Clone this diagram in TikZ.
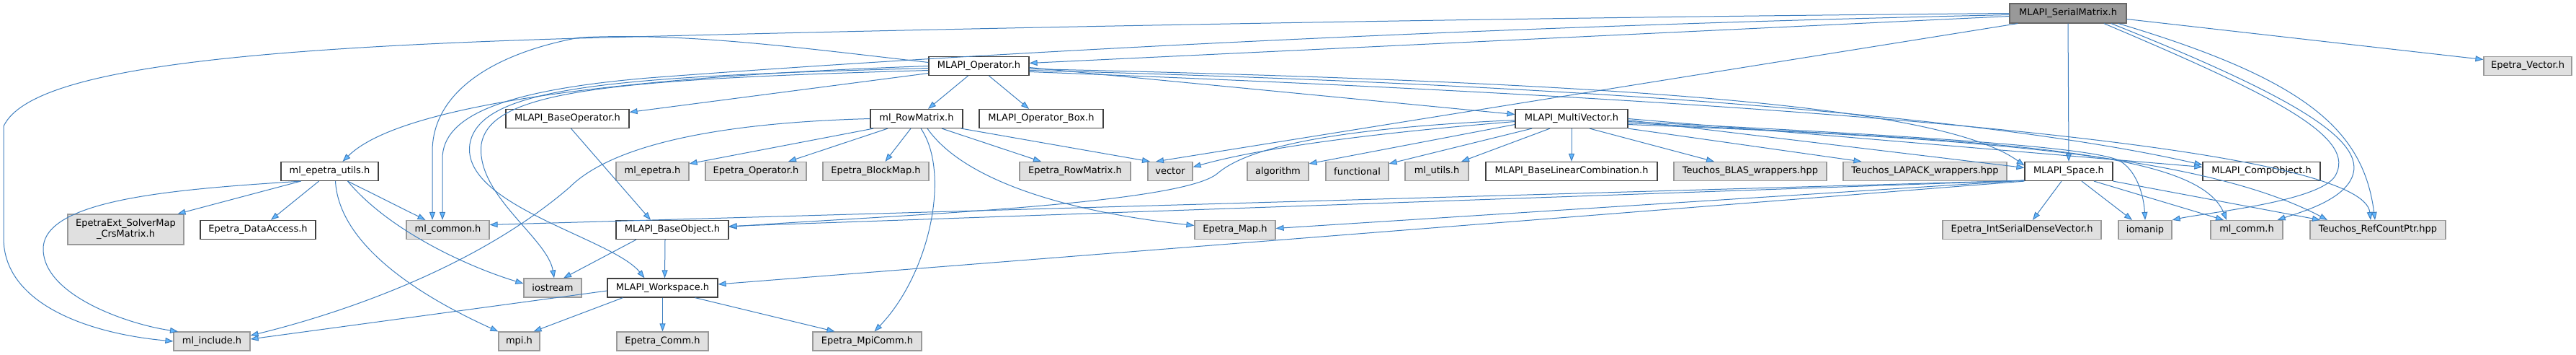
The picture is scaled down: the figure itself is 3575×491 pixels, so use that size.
\documentclass[tikz,border=0pt]{standalone}
\usepackage{fontspec}
\setmainfont{DejaVu Sans}
\usetikzlibrary{arrows.meta}
\definecolor{edgec}{HTML}{3F7FBF}
\definecolor{tipc}{HTML}{63B8FF}
\definecolor{nbord}{HTML}{404040}
\definecolor{gfill}{HTML}{E0E0E0}
\definecolor{gbord}{HTML}{999999}
\definecolor{rfill}{HTML}{999999}
\definecolor{rbord}{HTML}{666666}
\begin{document}
\begin{tikzpicture}[x=1pt,y=-1pt,
  hnode/.style={draw=nbord, fill=white, line width=1.2pt, minimum height=26pt, inner sep=0pt, font=\fontsize{13}{15}\selectfont},
  gnode/.style={hnode, draw=gbord, fill=gfill},
  root/.style={hnode, draw=rbord, fill=rfill},
  edge/.style={draw=edgec, line width=1pt, -{Triangle[length=11pt,width=8pt,fill=tipc]}}]
\fill[white] (0,0) rectangle (3575,491);
\useasboundingbox (0,0) rectangle (3575,491);
% nodes
\node[root, minimum width=162pt, minimum height=27pt] (S) at (2870,18.5) {MLAPI\_SerialMatrix.h};
\node[gnode, minimum width=122pt] (EV) at (3508,91.5) {Epetra\_Vector.h};
\node[hnode, minimum width=139pt] (OP) at (1358.5,91.5) {MLAPI\_Operator.h};
\node[hnode, minimum width=171pt] (BOP) at (787.5,164.5) {MLAPI\_BaseOperator.h};
\node[hnode, minimum width=128pt] (RM) at (1272,164.5) {ml\_RowMatrix.h};
\node[hnode, minimum width=172pt] (OB) at (1445,164.5) {MLAPI\_Operator\_Box.h};
\node[hnode, minimum width=156pt] (MV) at (2181,164.5) {MLAPI\_MultiVector.h};
\node[hnode, minimum width=135pt] (EU) at (457.5,237.5) {ml\_epetra\_utils.h};
\node[gnode, minimum width=101pt] (ME) at (905.5,237.5) {ml\_epetra.h};
\node[gnode, minimum width=140pt] (EO) at (1049,237.5) {Epetra\_Operator.h};
\node[gnode, minimum width=147pt] (EB) at (1215.5,237.5) {Epetra\_BlockMap.h};
\node[gnode, minimum width=154pt] (ERM) at (1492,237.5) {Epetra\_RowMatrix.h};
\node[gnode, minimum width=62pt] (VEC) at (1624,237.5) {vector};
\node[gnode, minimum width=85pt] (ALG) at (1773.5,237.5) {algorithm};
\node[gnode, minimum width=87pt] (FUN) at (1883.5,237.5) {functional};
\node[gnode, minimum width=88pt] (MU) at (1994,237.5) {ml\_utils.h};
\node[hnode, minimum width=238pt] (BLC) at (2181,237.5) {MLAPI\_BaseLinearCombination.h};
\node[gnode, minimum width=212pt] (BLAS) at (2429,237.5) {Teuchos\_BLAS\_wrappers.hpp};
\node[gnode, minimum width=227pt] (LAP) at (2671.5,237.5) {Teuchos\_LAPACK\_wrappers.hpp};
\node[hnode, minimum width=122pt] (SP) at (2871,237.5) {MLAPI\_Space.h};
\node[hnode, minimum width=163pt] (CO) at (3138.5,237.5) {MLAPI\_CompObject.h};
\node[gnode, minimum width=161pt, minimum height=42pt, align=center] (EX) at (174.5,318) {EpetraExt\_SolverMap\\\_CrsMatrix.h};
\node[hnode, minimum width=160pt] (DA) at (358,318.5) {Epetra\_DataAccess.h};
\node[gnode, minimum width=115pt] (MC) at (621.5,318.5) {ml\_common.h};
\node[hnode, minimum width=156pt] (BO) at (933,318.5) {MLAPI\_BaseObject.h};
\node[gnode, minimum width=112pt] (EM) at (1714,318.5) {Epetra\_Map.h};
\node[gnode, minimum width=220pt] (ISD) at (2806,318.5) {Epetra\_IntSerialDenseVector.h};
\node[gnode, minimum width=74pt] (IOM) at (2977,318.5) {iomanip};
\node[gnode, minimum width=100pt] (COMM) at (3118,318.5) {ml\_comm.h};
\node[gnode, minimum width=188pt] (RCP) at (3300,318.5) {Teuchos\_RefCountPtr.hpp};
\node[gnode, minimum width=80pt] (IOS) at (767,399) {iostream};
\node[hnode, minimum width=153pt] (WS) at (919.5,399) {MLAPI\_Workspace.h};
\node[gnode, minimum width=106pt] (INC) at (294,473) {ml\_include.h};
\node[gnode, minimum width=57pt] (MPI) at (720.5,473) {mpi.h};
\node[gnode, minimum width=127pt] (EC) at (919.5,473) {Epetra\_Comm.h};
\node[gnode, minimum width=151pt] (EMC) at (1203.5,473) {Epetra\_MpiComm.h};
% edges from SerialMatrix
\draw[edge] (S.west) .. controls (2000,25) and (1200,42) .. (804,53) .. controls (300,68) and (40,100) .. (5,175) -- (5,330) .. controls (5,420) and (120,462) .. (INC.west);
\draw[edge] ([yshift=-2pt]S.west) .. controls (1900,40) and (1200,85) .. (900,108) .. controls (700,125) and (614,160) .. (614,220) -- ([xshift=-7.5pt]MC.north);
\draw[edge] ([yshift=-4pt]S.west) -- ([yshift=4pt]OP.east);
\draw[edge] ([xshift=-70pt]S.south) -- ([xshift=-20pt]VEC.north);
\draw[edge] (S.south) -- (SP.north);
\draw[edge] ([yshift=-8pt]S.east) -- ([yshift=9pt]EV.west);
\draw[edge] ([xshift=50pt]S.south) .. controls (3150,130) and (3275,190) .. (3240,245) .. controls (3215,280) and (3060,295) .. (IOM.north east);
\draw[edge] ([xshift=60pt]S.south) .. controls (3200,140) and (3290,200) .. (3262,250) .. controls (3245,280) and (3190,295) .. ([xshift=-8pt]COMM.north east);
\draw[edge] ([xshift=70pt]S.south) .. controls (3200,110) and (3280,180) .. ([xshift=-4pt]RCP.north);
% edges from Operator
\draw[edge] ([yshift=5pt]OP.west) .. controls (1100,65) and (950,45) .. (804,52) .. controls (680,75) and (600,130) .. (600,210) -- ([xshift=-21.5pt]MC.north);
\draw[edge] (OP.west) .. controls (900,105) and (560,140) .. ([xshift=18pt]EU.north);
\draw[edge] ([yshift=-3pt]OP.west) .. controls (850,106) and (665,120) .. (652,200) .. controls (640,285) and (850,330) .. ([xshift=-25pt]WS.north);
\draw[edge] ([yshift=-6pt]OP.west) .. controls (850,110) and (680,125) .. (668,200) .. controls (660,270) and (760,330) .. ([xshift=2pt]IOS.north);
\draw[edge] ([yshift=-10pt]OP.west) -- ([yshift=9pt]BOP.east);
\draw[edge] ([xshift=-15pt]OP.south) -- ([xshift=16pt]RM.north);
\draw[edge] ([xshift=14pt]OP.south) -- ([xshift=-17pt]OB.north);
\draw[edge] ([yshift=-2pt]OP.east) -- ([yshift=6pt]MV.west);
\draw[edge] ([yshift=-4pt]OP.east) .. controls (2300,115) and (2700,150) .. ([yshift=8pt]SP.west);
\draw[edge] ([yshift=-6pt]OP.east) .. controls (2300,120) and (2800,170) .. ([yshift=9pt]CO.west);
\draw[edge] ([yshift=-8pt]OP.east) .. controls (2700,148) and (3280,215) .. ([xshift=-10pt]RCP.north);
% edges from MultiVector
\draw[edge] ([yshift=-4pt]MV.west) .. controls (1900,185) and (1750,205) .. ([yshift=6pt]VEC.east);
\draw[edge] ([yshift=-2pt]MV.west) .. controls (1800,180) and (1720,215) .. (1690,240) .. controls (1640,285) and (1200,300) .. ([yshift=4pt]BO.east);
\draw[edge] ([yshift=-8pt]MV.west) -- ([yshift=-3pt]ALG.north east);
\draw[edge] ([xshift=-55pt]MV.south) -- ([yshift=-3pt]FUN.north east);
\draw[edge] ([xshift=-30pt]MV.south) -- ([xshift=34pt]MU.north);
\draw[edge] (MV.south) -- (BLC.north);
\draw[edge] ([xshift=25pt]MV.south) -- ([xshift=-50pt]BLAS.north);
\draw[edge] (MV.south east) -- ([xshift=-88pt]LAP.north);
\draw[edge] ([yshift=-2pt]MV.east) -- ([yshift=5pt]SP.west);
\draw[edge] (MV.east) -- ([yshift=6pt]CO.west);
\draw[edge] ([yshift=-4pt]MV.east) .. controls (2700,190) and (2900,205) .. (2940,222) .. controls (2965,235) and (2975,270) .. (IOM.north);
\draw[edge] ([yshift=-6pt]MV.east) .. controls (2750,195) and (3050,205) .. ([xshift=-28pt]COMM.north);
\draw[edge] ([yshift=-8pt]MV.east) .. controls (2700,190) and (3050,210) .. ([xshift=-70pt]RCP.north);
% edges from Space
\draw[edge] ([xshift=-10pt]SP.south) -- ([xshift=15pt]ISD.north);
\draw[edge] ([xshift=18pt]SP.south) -- ([xshift=-18pt]IOM.north);
\draw[edge] ([xshift=35pt]SP.south) -- ([xshift=-32pt]COMM.north);
\draw[edge] (SP.south east) -- ([xshift=-80pt]RCP.north);
\draw[edge] ([yshift=1pt]SP.south west) -- ([yshift=7pt]MC.east);
\draw[edge] ([yshift=1pt]SP.south west) -- ([yshift=5pt]BO.east);
\draw[edge] ([yshift=1pt]SP.south west) -- ([yshift=2pt]EM.east);
\draw[edge] (SP.south west) -- ([yshift=5pt]WS.east);
% BaseOperator
\draw[edge] ([xshift=5pt]BOP.south) -- ([xshift=-30pt]BO.north);
% RowMatrix
\draw[edge] ([xshift=-60pt]RM.south) -- ([yshift=-3pt]ME.north east);
\draw[edge] ([xshift=-40pt]RM.south) -- ([xshift=45pt]EO.north);
\draw[edge] ([xshift=-8pt]RM.south) -- ([xshift=13pt]EB.north);
\draw[edge] ([xshift=35pt]RM.south) -- ([xshift=-47pt]ERM.north);
\draw[edge] ([xshift=62pt]RM.south) -- ([xshift=-28pt]VEC.north);
\draw[edge] ([xshift=15pt]RM.south) .. controls (1330,240) and (1450,290) .. ([yshift=6pt]EM.west);
\draw[edge] ([xshift=6pt]RM.south) .. controls (1320,240) and (1290,380) .. ([xshift=10pt]EMC.north);
\draw[edge] (RM.west) .. controls (1000,170) and (850,200) .. (790,260) .. controls (650,380) and (450,440) .. ([yshift=8pt]INC.east);
% ml_epetra_utils
\draw[edge] ([xshift=-40pt]EU.south) -- ([xshift=72pt]EX.north);
\draw[edge] ([xshift=-15pt]EU.south) -- ([xshift=18pt]DA.north);
\draw[edge] ([xshift=25pt]EU.south) -- ([xshift=-31pt]MC.north);
\draw[edge] ([xshift=25pt]EU.south) .. controls (540,320) and (650,370) .. ([yshift=6pt]IOS.west);
\draw[edge] ([xshift=8pt]EU.south) .. controls (470,330) and (560,400) .. (MPI.north west);
\draw[edge] ([xshift=-40pt]EU.south) .. controls (250,262) and (60,275) .. (60,345) .. controls (60,410) and (180,450) .. ([xshift=-47pt]INC.north);
% BaseObject
\draw[edge] ([xshift=-50pt]BO.south) -- ([xshift=15pt]IOS.north);
\draw[edge] ([xshift=-10pt]BO.south) -- ([xshift=3pt]WS.north);
% Workspace
\draw[edge] ([yshift=-4pt]WS.west) -- ([yshift=3pt]INC.east);
\draw[edge] ([xshift=-55pt]WS.south) -- ([xshift=20pt]MPI.north);
\draw[edge] (WS.south) -- (EC.north);
\draw[edge] ([xshift=45pt]WS.south) -- ([xshift=-45pt]EMC.north);
\end{tikzpicture}
\end{document}
